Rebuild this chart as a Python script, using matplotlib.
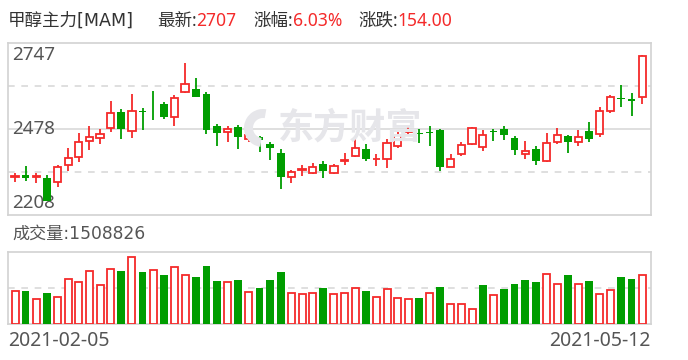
import matplotlib
matplotlib.use("Agg")
import matplotlib.pyplot as plt
import matplotlib.patches as mpatches
from matplotlib.transforms import IdentityTransform
import numpy as np

plt.rcParams['font.family'] = ['Noto Sans', 'Noto Sans CJK SC', 'DejaVu Sans']

# daily candles, 2021-02-05 .. 2021-05-12
opens = [2328, 2333, 2328, 2323, 2310, 2366, 2391, 2441, 2450, 2481,
         2532, 2472, 2533, 2544, 2557, 2515, 2595, 2602, 2588, 2487,
         2469, 2484, 2447, 2451, 2431, 2403, 2326, 2349, 2341, 2369,
         2340, 2376, 2394, 2414, 2382, 2385, 2425, 2467, 2466, 2467,
         2473, 2359, 2400, 2431, 2422, 2470, 2476, 2448, 2400, 2414,
         2378, 2438, 2457, 2438, 2470, 2462, 2534, 2575, 2571, 2577]
closes = [2330, 2325, 2330, 2251, 2357, 2388, 2438, 2453, 2462, 2528,
          2477, 2534, 2531, 2542, 2514, 2574, 2618, 2579, 2474, 2465,
          2478, 2452, 2459, 2443, 2418, 2326, 2344, 2352, 2357, 2347,
          2363, 2379, 2419, 2383, 2385, 2435, 2459, 2470, 2461, 2465,
          2359, 2382, 2428, 2481, 2459, 2468, 2458, 2412, 2407, 2378,
          2435, 2459, 2437, 2453, 2446, 2535, 2577, 2572, 2564, 2707]
highs = [2341, 2361, 2341, 2333, 2364, 2417, 2466, 2488, 2476, 2566,
         2541, 2588, 2543, 2597, 2563, 2584, 2685, 2637, 2593, 2494,
         2488, 2491, 2478, 2457, 2437, 2414, 2350, 2366, 2372, 2377,
         2368, 2401, 2445, 2431, 2398, 2445, 2470, 2488, 2476, 2488,
         2476, 2398, 2437, 2484, 2473, 2479, 2488, 2457, 2439, 2423,
         2464, 2482, 2460, 2473, 2498, 2547, 2585, 2616, 2591, 2710]
lows = [2310, 2316, 2307, 2251, 2297, 2347, 2375, 2412, 2430, 2468,
        2446, 2449, 2474, 2507, 2509, 2488, 2589, 2579, 2463, 2424,
        2437, 2414, 2437, 2406, 2381, 2290, 2307, 2331, 2335, 2323,
        2338, 2364, 2390, 2376, 2362, 2356, 2418, 2455, 2434, 2424,
        2347, 2359, 2393, 2426, 2409, 2440, 2443, 2396, 2385, 2365,
        2375, 2430, 2402, 2424, 2437, 2452, 2527, 2545, 2519, 2555]
volumes = [1016000, 996000, 770000, 934000, 831000, 1386000, 1293000, 1632000, 1201000, 1694000,
           1611000, 2063000, 1581000, 1663000, 1488000, 1755000, 1509000, 1427000, 1765000, 1304000,
           1293000, 1334000, 985000, 1088000, 1334000, 1581000, 955000, 924000, 955000, 1088000,
           924000, 955000, 1109000, 996000, 831000, 1078000, 801000, 770000, 780000, 955000,
           1119000, 616000, 616000, 462000, 1180000, 893000, 1057000, 1211000, 1334000, 1273000,
           1540000, 1211000, 1488000, 1232000, 1304000, 924000, 1047000, 1427000, 1365000, 1508826]
price_ticks = [2208, 2478, 2747]
date_labels = ['2021-02-05', '2021-05-12']

RED = '#f42a2a'
GREEN = '#009d00'
GRID = '#d9d9d9'
W, H = 688, 360
WIDE = ['DejaVu Sans', 'Noto Sans CJK SC']


def px(x, y):
    return x / W, 1 - y / H


fig = plt.figure(figsize=(6.88, 3.6), dpi=100)

# candles
ax = fig.add_axes([8 / W, 1 - 215 / H, 643 / W, 172 / H])
n = len(closes)
x = np.arange(n)
o = np.array(opens)
c = np.array(closes)
up = c >= o
cols = np.where(up, RED, GREEN)
ax.vlines(x, lows, highs, colors=cols, linewidth=1.3, zorder=3)
body_lo = np.minimum(o, c)
body_h = np.maximum(np.abs(c - o), 2.5)
ax.bar(x[up], body_h[up], bottom=body_lo[up], width=0.68, facecolor='white',
       edgecolor=RED, linewidth=1.3, zorder=4)
ax.bar(x[~up], body_h[~up], bottom=body_lo[~up], width=0.72, color=GREEN,
       linewidth=0, zorder=4)

ax.set_xlim(-0.66, n - 0.17)
ax.set_ylim(price_ticks[0], price_ticks[-1])
ax.axhline(price_ticks[1], color=GRID, linewidth=1.2, zorder=1)
q = (price_ticks[-1] - price_ticks[0]) / 4
for lv in (price_ticks[0] + q, price_ticks[-1] - q):
    ax.axhline(lv, color=GRID, linewidth=1.2, linestyle=(0, (4, 4)), zorder=1)
ax.set_xticks([])
ax.set_yticks([])
for s in ax.spines.values():
    s.set_color('#d2d2d2')
    s.set_linewidth(1.2)

ax.text(0.006, 0.985, str(price_ticks[2]), transform=ax.transAxes, va='top', ha='left',
        fontsize=13.5, color='#555555')
ax.text(0.006, 0.5, str(price_ticks[1]), transform=ax.transAxes, va='center', ha='left',
        fontsize=13.5, color='#555555')
ax.text(0.006, 0.015, str(price_ticks[0]), transform=ax.transAxes, va='bottom', ha='left',
        fontsize=13.5, color='#555555')

# watermark
fig.text(*px(350, 129), '东方财富', ha='center', va='center', fontsize=26,
         fontweight='bold', color='#e6e6ea', zorder=0.5)
logo = mpatches.Wedge((263, H - 128), 19, 80, 262, width=9, facecolor='#e6e6ea',
                      edgecolor='none', transform=IdentityTransform(), zorder=0.5)
fig.patches.append(logo)
ax.set_facecolor('none')

# volume
vax = fig.add_axes([8 / W, 1 - 323.5 / H, 643 / W, 71.5 / H])
cl = np.array(closes)
vup = np.concatenate([[True], cl[1:] >= cl[:-1]])
v = np.array(volumes)
vax.bar(x[vup], v[vup], width=0.66, facecolor='white', edgecolor=RED, linewidth=1.3, zorder=3)
vax.bar(x[~vup], v[~vup], width=0.72, color=GREEN, linewidth=0, zorder=3)
vax.set_xlim(-0.66, n - 0.17)
vax.set_ylim(0, v.max() * 1.07)
vax.axhline(v.max() * 1.07 / 2, color=GRID, linewidth=1.2, linestyle=(0, (4, 4)), zorder=1)
vax.set_xticks([])
vax.set_yticks([])
for s in vax.spines.values():
    s.set_color('#d2d2d2')
    s.set_linewidth(1.2)

# header texts
hy = 21
fs = 12.6
fig.text(*px(8, hy), '甲醇主力[MAM]', fontsize=fs, color='#333333', va='center', family=WIDE)
fig.text(*px(157, hy), '最新:', fontsize=fs, color='#333333', va='center')
fig.text(*px(196, hy), str(closes[-1]), fontsize=fs, color=RED, va='center')
fig.text(*px(253, hy), '涨幅:', fontsize=fs, color='#333333', va='center')
fig.text(*px(293, hy), '6.03%', fontsize=fs, color=RED, va='center')
fig.text(*px(358, hy), '涨跌:', fontsize=fs, color='#333333', va='center')
fig.text(*px(397, hy), '154.00', fontsize=fs, color=RED, va='center')

fig.text(*px(12, 234), '成交量:' + str(volumes[-1]), fontsize=12.3, color='#555555',
         va='center', family=WIDE)

fig.text(*px(8, 341), date_labels[0], fontsize=14, color='#555555', va='center', ha='left')
fig.text(*px(651, 341), date_labels[1], fontsize=14, color='#555555', va='center', ha='right')

fig.savefig('out.png', dpi=100)
